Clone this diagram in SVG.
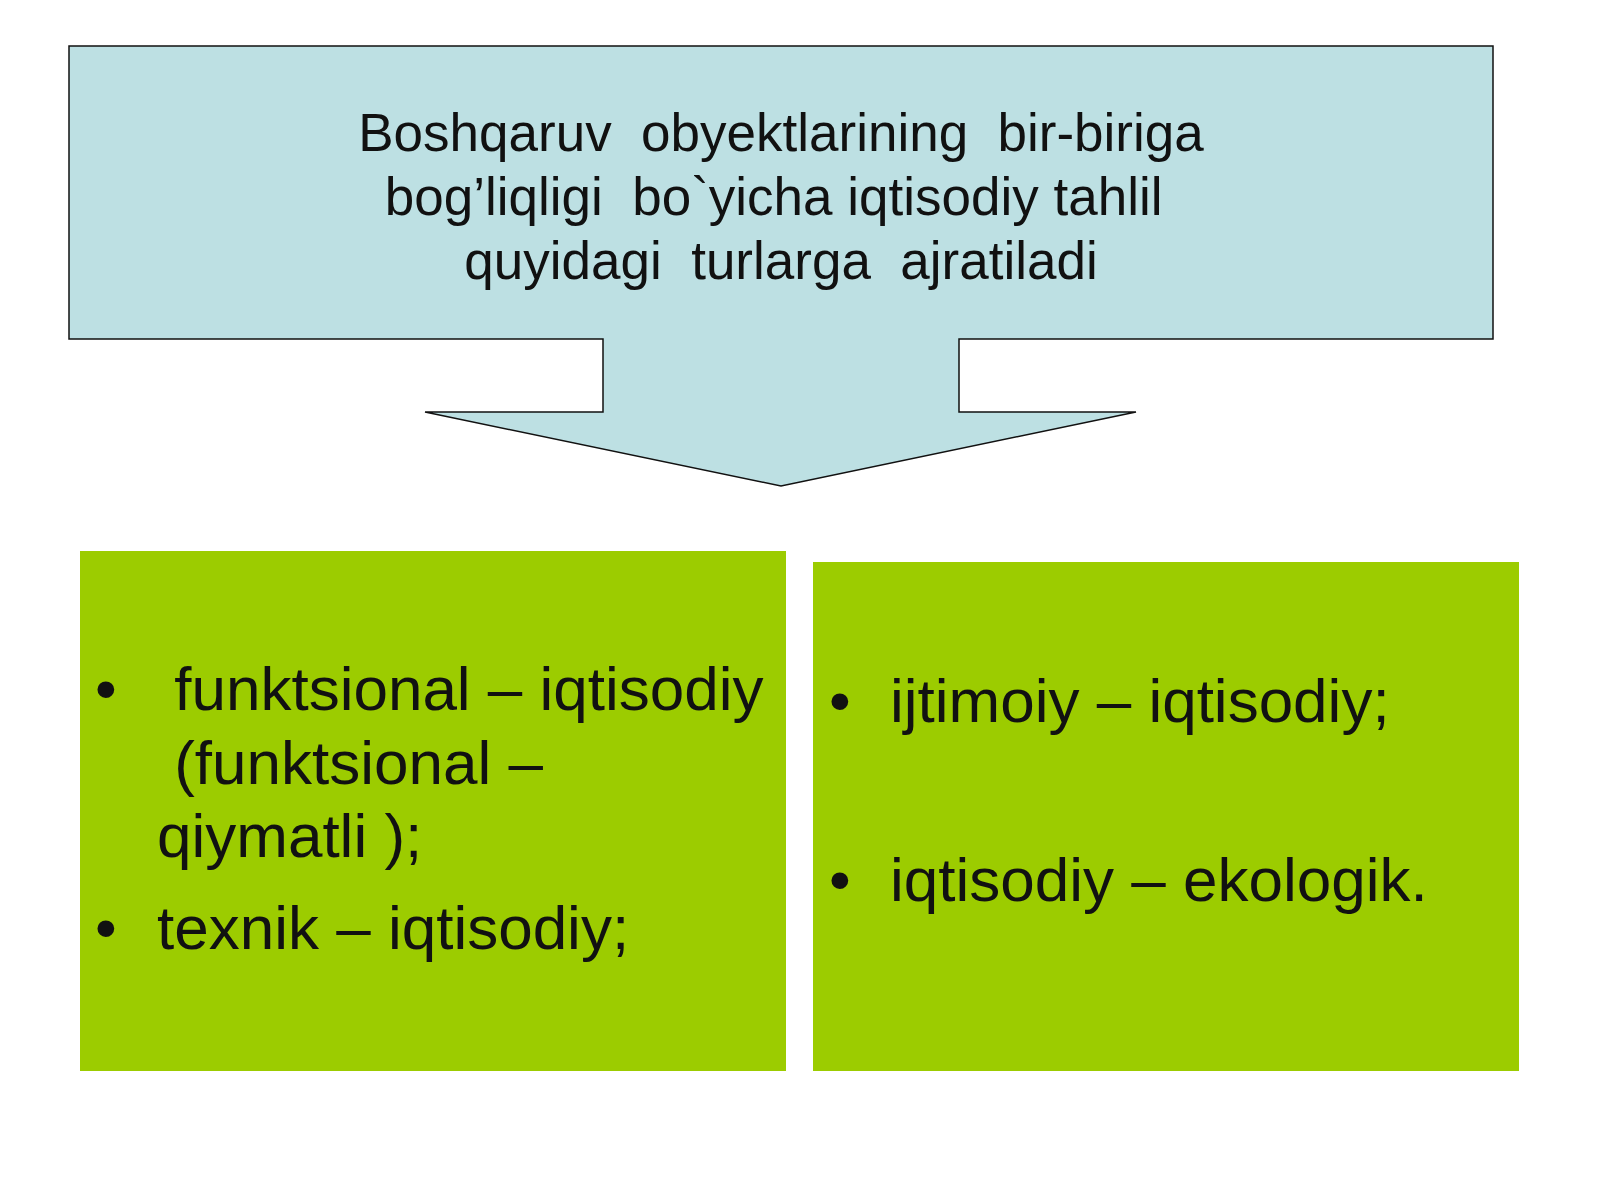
<svg xmlns="http://www.w3.org/2000/svg" width="1600" height="1200" viewBox="0 0 1600 1200">
<style>
.t{font-family:"Liberation Sans",Arial,sans-serif;fill:#111;}
.h{font-size:53px;text-anchor:middle;}
.b{font-size:62px;}
.g{fill:#9ccc00;}
</style>
<rect width="1600" height="1200" fill="#ffffff"/>
<g id="header">
<path d="M69,46 H1493 V339 H959 V412 H1136 L781,486 L425,412 H603 V339 H69 Z" fill="#bde0e3" stroke="#111" stroke-width="1.5"/>
<text class="t h" x="781" y="151" xml:space="preserve">Boshqaruv  obyektlarining  bir-biriga</text>
<text class="t h" x="781" y="215" xml:space="preserve">bog’liqligi  bo`yicha iqtisodiy tahlil </text>
<text class="t h" x="781" y="279" xml:space="preserve">quyidagi  turlarga  ajratiladi</text>
</g>
<g id="left">
<rect class="g" x="80" y="551" width="706" height="520"/>
<text class="t b" x="95" y="710">•</text>
<text class="t b" x="157" y="710" xml:space="preserve"> funktsional – iqtisodiy</text>
<text class="t b" x="157" y="784" xml:space="preserve"> (funktsional –</text>
<text class="t b" x="157" y="857">qiymatli );</text>
<text class="t b" x="95" y="949">•</text>
<text class="t b" x="157" y="949">texnik – iqtisodiy;</text>
</g>
<g id="right">
<rect class="g" x="813" y="562" width="706" height="509"/>
<text class="t b" x="829" y="722">•</text>
<text class="t b" x="890" y="722">ijtimoiy – iqtisodiy;</text>
<text class="t b" x="829" y="901">•</text>
<text class="t b" x="890" y="901">iqtisodiy – ekologik.</text>
</g>
</svg>
